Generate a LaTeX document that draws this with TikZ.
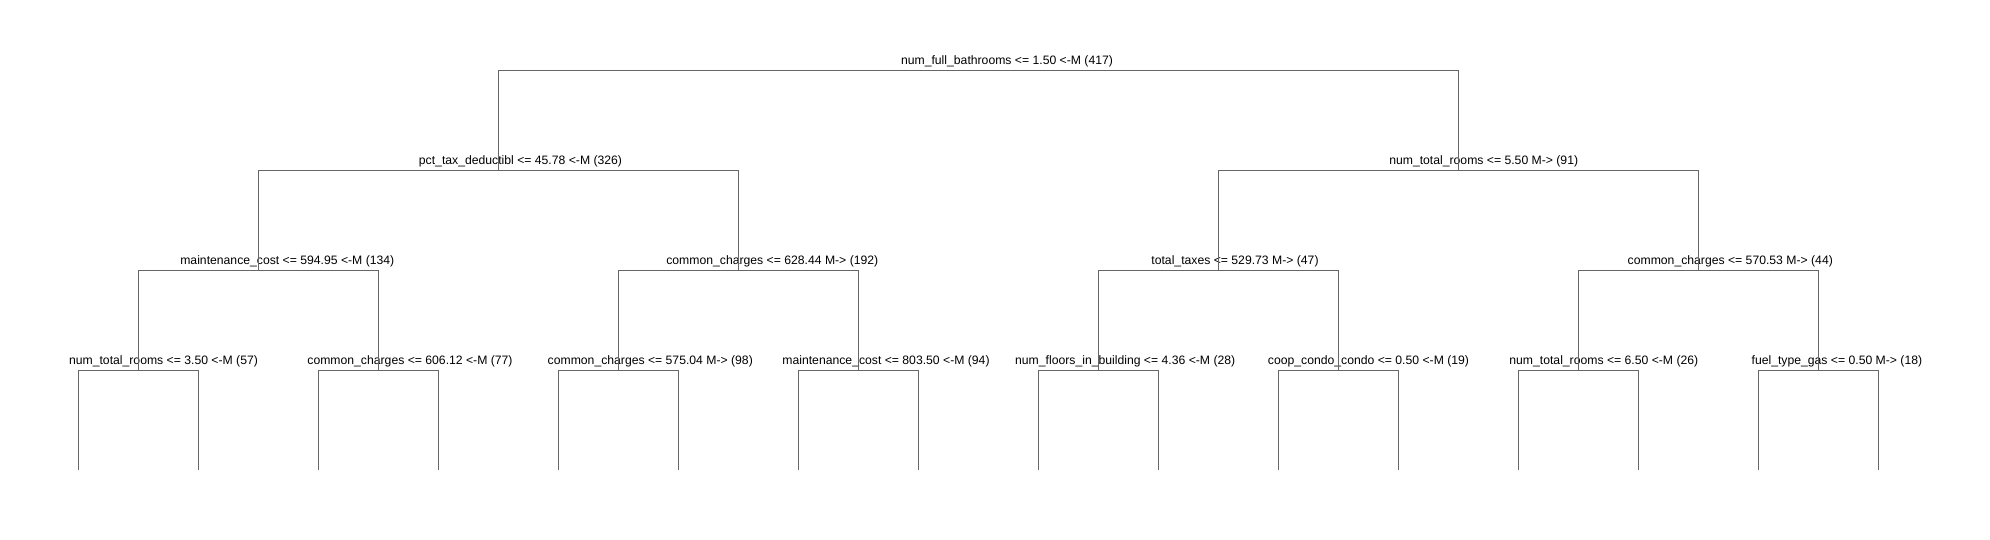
\documentclass[tikz,border=0pt]{standalone}
\usepackage{fontspec}
\setmainfont{Liberation Sans}

\begin{document}
\begin{tikzpicture}[x=1pt, y=-1pt, branch/.style={draw=black!60, line width=1pt}, split/.style={anchor=base, inner sep=0pt, font=\fontsize{12.2}{14}\selectfont}]
    \useasboundingbox (0,0) rectangle (1990,540);

    % Splits {root, a, b, aa, ab, ..., aaa, ...}
    \coordinate (root)  at (978.7,70.5);
    \coordinate (a)     at (498.7,170.5);
    \coordinate (b)     at (1458.7,170.5);
    \coordinate (aa)    at (258.7,270.5);
    \coordinate (ab)    at (738.7,270.5);
    \coordinate (ba)    at (1218.7,270.5);
    \coordinate (bb)    at (1698.7,270.5);
    \coordinate (aaa)   at (138.7,370.5);
    \coordinate (aab)   at (378.7,370.5);
    \coordinate (aba)   at (618.7,370.5);
    \coordinate (abb)   at (858.7,370.5);
    \coordinate (baa)   at (1098.7,370.5);
    \coordinate (bab)   at (1338.7,370.5);
    \coordinate (bba)   at (1578.7,370.5);
    \coordinate (bbb)   at (1818.7,370.5);

    % Leaves {l0, l1, ..., l15}
    \coordinate (l0)    at (78.7,470);
    \coordinate (l1)    at (198.7,470);
    \coordinate (l2)    at (318.7,470);
    \coordinate (l3)    at (438.7,470);
    \coordinate (l4)    at (558.7,470);
    \coordinate (l5)    at (678.7,470);
    \coordinate (l6)    at (798.7,470);
    \coordinate (l7)    at (918.7,470);
    \coordinate (l8)    at (1038.7,470);
    \coordinate (l9)    at (1158.7,470);
    \coordinate (l10)   at (1278.7,470);
    \coordinate (l11)   at (1398.7,470);
    \coordinate (l12)   at (1518.7,470);
    \coordinate (l13)   at (1638.7,470);
    \coordinate (l14)   at (1758.7,470);
    \coordinate (l15)   at (1878.7,470);

    % Labels
    \node [split]   (root-t)  at (1007,64.5)   {num\_full\_bathrooms <= 1.50 <-M (417)};
    \node [split]   (a-t)     at (520.5,164.5) {pct\_tax\_deductibl <= 45.78 <-M (326)};
    \node [split]   (b-t)     at (1483.7,164.5) {num\_total\_rooms <= 5.50 M-> (91)};
    \node [split]   (aa-t)    at (287.3,264.5) {maintenance\_cost <= 594.95 <-M (134)};
    \node [split]   (ab-t)    at (772.3,264.5) {common\_charges <= 628.44 M-> (192)};
    \node [split]   (ba-t)    at (1235,264.5)  {total\_taxes <= 529.73 M-> (47)};
    \node [split]   (bb-t)    at (1730.3,264.5) {common\_charges <= 570.53 M-> (44)};
    \node [split]   (aaa-t)   at (163.5,364.5) {num\_total\_rooms <= 3.50 <-M (57)};
    \node [split]   (aab-t)   at (410,364.5)   {common\_charges <= 606.12 <-M (77)};
    \node [split]   (aba-t)   at (650.3,364.5) {common\_charges <= 575.04 M-> (98)};
    \node [split]   (abb-t)   at (886,364.5)   {maintenance\_cost <= 803.50 <-M (94)};
    \node [split]   (baa-t)   at (1125.2,364.5) {num\_floors\_in\_building <= 4.36 <-M (28)};
    \node [split]   (bab-t)   at (1368.5,364.5) {coop\_condo\_condo <= 0.50 <-M (19)};
    \node [split]   (bba-t)   at (1603.8,364.5) {num\_total\_rooms <= 6.50 <-M (26)};
    \node [split]   (bbb-t)   at (1836.9,364.5) {fuel\_type\_gas <= 0.50 M-> (18)};

    % Paths
    \path [branch]  (a)   |- (root) -| (b);
    \path [branch]  (aa)  |- (a)    -| (ab);
    \path [branch]  (ba)  |- (b)    -| (bb);
    \path [branch]  (aaa) |- (aa)   -| (aab);
    \path [branch]  (aba) |- (ab)   -| (abb);
    \path [branch]  (baa) |- (ba)   -| (bab);
    \path [branch]  (bba) |- (bb)   -| (bbb);
    \path [branch]  (l0)  |- (aaa)  -| (l1);
    \path [branch]  (l2)  |- (aab)  -| (l3);
    \path [branch]  (l4)  |- (aba)  -| (l5);
    \path [branch]  (l6)  |- (abb)  -| (l7);
    \path [branch]  (l8)  |- (baa)  -| (l9);
    \path [branch]  (l10) |- (bab)  -| (l11);
    \path [branch]  (l12) |- (bba)  -| (l13);
    \path [branch]  (l14) |- (bbb)  -| (l15);

\end{tikzpicture}
\end{document}
